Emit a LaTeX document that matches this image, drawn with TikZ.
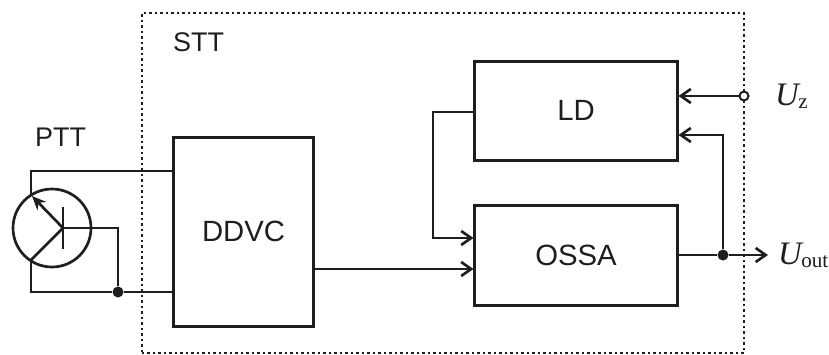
\documentclass[tikz,border=0pt]{standalone}
\usepackage{fontspec}
\setmainfont{Liberation Sans}
\newfontfamily\timesfont{Liberation Serif}
\usepackage{xcolor}
\usepackage{tikz}
\usetikzlibrary{arrows.meta, positioning, calc}
\definecolor{mydark}{RGB}{30,30,30}
\tikzset{
  block/.style={rectangle, draw=mydark, line width=0.09cm, inner sep=0pt,
    align=center, font=\fontsize{25}{30}\selectfont, text=mydark},
  arrow/.style={-{Straight Barb[length=0.3cm,width=0.42cm,line width=0.08cm]}, line width=0.08cm, color=mydark},
  line/.style={line width=0.08cm, color=mydark},
  dotbox/.style={draw=mydark, line width=0.06cm, dash pattern=on 0.075cm off 0.09cm},
  junc/.style={circle, fill=mydark, inner sep=0pt, minimum size=0.33cm},
  term/.style={circle, draw=mydark, fill=white, line width=0.06cm, inner sep=0pt, minimum size=0.27cm},
  lab/.style={font=\fontsize{23}{28}\selectfont, text=mydark, inner sep=0pt},
  var/.style={font=\timesfont\fontsize{28}{32}\selectfont, text=mydark, anchor=west, inner sep=0pt}
}
\newcommand{\subtxt}[1]{\kern-2pt\raisebox{-0.2ex}{\upshape\fontsize{18}{22}\selectfont #1}}
\begin{document}
\begin{tikzpicture}[x=0.03cm,y=-0.03cm]
  \useasboundingbox (0,0) rectangle (829,354);
  \node[dotbox, minimum width=18.06cm, minimum height=10.2cm, inner sep=0pt] (stt) at (443,183) {};
  \node[lab, anchor=west] (sttlab) at (173,42) {STT};
  \node[lab, anchor=west] (pttlab) at (35,137) {PTT};

  \node[block, minimum width=4.17cm, minimum height=5.67cm] (ddvc) at (243.5,231.5) {DDVC};
  \node[block, minimum width=6.06cm, minimum height=2.97cm] (ld) at (576,110.5) {LD};
  \node[block, minimum width=6.06cm, minimum height=3cm] (ossa) at (576,255) {OSSA};

  % transistor
  \node[circle, draw=mydark, line width=0.08cm, minimum size=2.34cm, inner sep=0pt] (ptt) at (52,228) {};
  \coordinate (base) at (63,228);
  \coordinate (emit) at (32,196);
  \coordinate (coll) at (31,260);
  \draw[line] (63,207) -- (63,249);
  \draw[-{Stealth[length=0.42cm,width=0.36cm]}, line width=0.08cm, color=mydark] (base) -- (emit);
  \draw[line] (base) -- (coll);
  \draw[line] (31,196) -- (31,171) -- (31,171 -| ddvc.west);
  \node[junc] (jbot) at (118,292) {};
  \draw[line] (coll) -- (31,292) -- (jbot) -- (jbot -| ddvc.west);
  \draw[line] (base) -- (118,228) -- (jbot);

  % signal path
  \draw[arrow] (ddvc.east |- 0,269) -- (ossa.west |- 0,269);
  \draw[arrow] (ld.west |- 0,112) -- (433,112) -- (433,238) -- (ossa.west |- 0,238);

  \node[junc] (jout) at (723,255) {};
  \draw[line] (ossa.east) -- (jout);
  \node[var] (uout) at (778,255) {\textit{U}\subtxt{out}};
  \coordinate (uouttip) at (768,255);
  \draw[arrow] (jout) -- (uouttip);
  \draw[arrow] (jout) -- (723,135) -- (ld.east |- 0,135);
  \node[term] (uzterm) at (744,96) {};
  \node[var] (uz) at (775,96) {\textit{U}\subtxt{z}};
  \draw[arrow] (uzterm) -- (ld.east |- uzterm);
\end{tikzpicture}
\end{document}
